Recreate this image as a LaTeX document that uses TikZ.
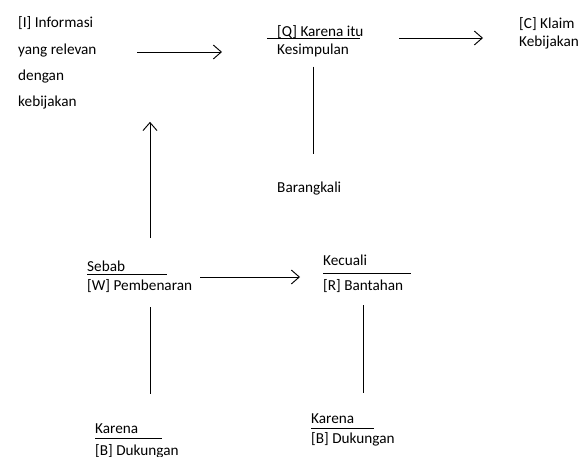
\documentclass[tikz,border=0pt]{standalone}
\usepackage{fontspec}
\setmainfont{Carlito}
\usetikzlibrary{arrows.meta, positioning, calc}
\tikzstyle{label} = [
    inner sep=0pt,
    anchor=base west,
    align=left,
    font=\fontsize{13}{14.5}\selectfont
]
\tikzstyle{rule} = [line width=0.8pt]
\tikzstyle{link} = [line width=0.8pt]
\tikzstyle{arrow} = [line width=0.8pt,->,>={Straight Barb[length=2.4mm, width=4.2mm]}]

\begin{document}
\begin{tikzpicture}[x=0.03cm, y=-0.03cm]
\useasboundingbox (0,0) rectangle (586,457);

% anchor base = baris terakhir
\node (info) [label, font=\fontsize{13}{22.6}\selectfont] at (18,107) {[I] Informasi\\yang relevan\\dengan\\kebijakan};
\node (qual) [label] at (277,37) {[Q] Karena itu};
\node (concl) [label] at (277,55) {Kesimpulan};
\node (claim) [label, font=\fontsize{13}{16}\selectfont] at (519,47) {[C] Klaim\\Kebijakan};
\node (maybe) [label] at (277,193) {Barangkali};

\node (sebab) [label] at (87,272) {Sebab};
\node (warrant) [label] at (87,291) {[W] Pembenaran};
\node (kecuali) [label] at (323,266) {Kecuali};
\node (rebut) [label] at (323,291) {[R] Bantahan};

\node (karenaW) [label] at (95,433) {Karena};
\node (backW) [label] at (95,455) {[B] Dukungan};
\node (karenaR) [label] at (311,423) {Karena};
\node (backR) [label] at (311,443) {[B] Dukungan};

% garis di bawah kata penghubung
\draw[rule] (267,38) -- (360,38);
\draw[rule] (87,274) -- (167,274);
\draw[rule] (323,273) -- (411,273);
\draw[rule] (95,438) -- (162,438);
\draw[rule] (311,428) -- (374,428);

\draw[arrow] ($(info.west |- 0,52)+(119,0)$) -- ($(qual.west |- 0,52)+(-55,0)$);
\draw[arrow] ($(qual.base west)+(122,1)$) -- ($(claim.base west)+(-36,-9)$);
\draw[link] ($(concl.south)+(0,9)$) -- ($(concl.south |- maybe.north)+(0,-28)$);
\draw[arrow] ($(sebab.north west)+(63,-23)$) -- ($(info.south west)+(132,12)$);
\draw[arrow] ($(sebab.base west)+(113,5)$) -- ($(kecuali.base west)+(-23,11)$);
\draw[link] ($(warrant.south west)+(63,14)$) -- ($(karenaW.north west)+(55,-29)$);
\draw[link] ($(rebut.south west)+(40,12)$) -- ($(karenaR.north west)+(52,-20)$);

\end{tikzpicture}
\end{document}
